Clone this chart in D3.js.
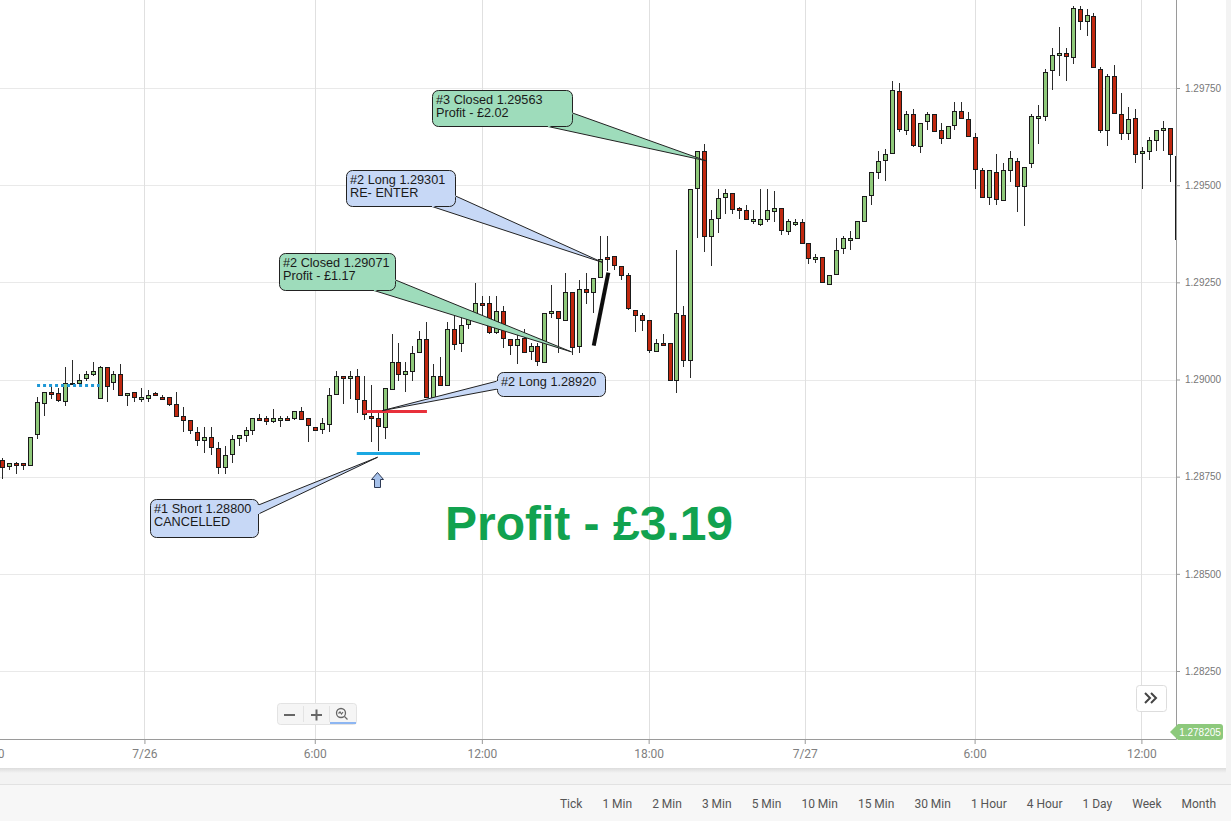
<!DOCTYPE html>
<html>
<head>
<meta charset="utf-8">
<script src="https://cdn.jsdelivr.net/npm/d3@7"></script>
<style>
body { margin:0; background:#f4f4f4; }
svg { display:block; }
</style>
</head>
<body>
<svg id="chart" width="1231" height="821"></svg>
<script>
// 15 min candles
var open = [
1.28794,1.28776,1.28784,1.28784,1.28781,1.28858,1.28941,1.28967,1.28964,1.28946,
1.28990,1.28992,1.29003,1.29015,1.28951,1.29031,1.28995,1.29013,1.28959,1.28967,
1.28949,1.28954,1.28964,1.28956,1.28954,1.28936,1.28905,1.28895,1.28866,1.28846,
1.28853,1.28825,1.28774,1.28807,1.28848,1.28856,1.28869,1.28902,1.28900,1.28892,
1.28897,1.28902,1.28900,1.28920,1.28900,1.28879,1.28871,1.28887,1.28964,1.29010,
1.29003,1.29008,1.28946,1.28907,1.28900,1.28877,1.28977,1.29046,1.29015,1.29023,
1.29069,1.29105,1.28956,1.29008,1.28985,1.29129,1.29093,1.29141,1.29160,1.29196,
1.29196,1.29121,1.29175,1.29105,1.29090,1.29108,1.29072,1.29085,1.29046,1.29170,
1.29175,1.29154,1.29226,1.29085,1.29234,1.29226,1.29265,1.29316,1.29319,1.29293,
1.29268,1.29180,1.29167,1.29152,1.29075,1.29095,1.29093,1.28997,1.29167,1.29049,
1.29491,1.29587,1.29368,1.29414,1.29471,1.29481,1.29440,1.29435,1.29406,1.29401,
1.29414,1.29432,1.29440,1.29383,1.29401,1.29406,1.29350,1.29309,1.29314,1.29247,
1.29273,1.29337,1.29358,1.29365,1.29409,1.29473,1.29535,1.29566,1.29581,1.29741,
1.29641,1.29684,1.29602,1.29664,1.29684,1.29643,1.29623,1.29656,1.29692,1.29671,
1.29625,1.29540,1.29468,1.29535,1.29463,1.29538,1.29561,1.29499,1.29556,1.29671,
1.29679,1.29795,1.29834,1.29839,1.29831,1.29954,1.29924,1.29936,1.29800,1.29643,
1.29782,1.29684,1.29635,1.29674,1.29584,1.29587,1.29615,1.29641,1.29646,1.29576];
var high = [
1.28799,1.28784,1.28789,1.28786,1.28853,1.28954,1.28969,1.28985,1.28977,1.29033,
1.29049,1.29013,1.29023,1.29046,1.29036,1.29031,1.29023,1.29039,1.28964,1.28967,
1.28977,1.28972,1.28967,1.28959,1.28956,1.28967,1.28928,1.28895,1.28877,1.28877,
1.28877,1.28838,1.28828,1.28858,1.28856,1.28877,1.28900,1.28910,1.28905,1.28923,
1.28905,1.28905,1.28920,1.28928,1.28900,1.28879,1.28900,1.28977,1.29021,1.29010,
1.29023,1.29028,1.29010,1.28987,1.28915,1.28977,1.29116,1.29095,1.29044,1.29087,
1.29126,1.29147,1.29041,1.29059,1.29147,1.29170,1.29162,1.29175,1.29247,1.29216,
1.29214,1.29216,1.29190,1.29105,1.29116,1.29129,1.29093,1.29093,1.29172,1.29244,
1.29175,1.29275,1.29226,1.29257,1.29273,1.29262,1.29368,1.29368,1.29319,1.29293,
1.29275,1.29180,1.29172,1.29152,1.29103,1.29116,1.29093,1.29334,1.29188,1.29489,
1.29587,1.29607,1.29435,1.29489,1.29489,1.29481,1.29443,1.29448,1.29435,1.29489,
1.29491,1.29484,1.29440,1.29412,1.29414,1.29412,1.29350,1.29322,1.29314,1.29270,
1.29363,1.29370,1.29383,1.29409,1.29473,1.29533,1.29589,1.29594,1.29769,1.29764,
1.29692,1.29695,1.29661,1.29687,1.29684,1.29661,1.29653,1.29713,1.29713,1.29687,
1.29635,1.29543,1.29540,1.29579,1.29556,1.29587,1.29571,1.29548,1.29682,1.29705,
1.29798,1.29852,1.29906,1.29852,1.29960,1.29960,1.29952,1.29942,1.29803,1.29787,
1.29808,1.29736,1.29702,1.29695,1.29599,1.29623,1.29641,1.29664,1.29648,1.29576];
var low = [
1.28745,1.28768,1.28758,1.28766,1.28781,1.28846,1.28905,1.28951,1.28941,1.28933,
1.28990,1.28987,1.28997,1.29010,1.28951,1.28941,1.28974,1.28959,1.28933,1.28941,
1.28943,1.28943,1.28959,1.28946,1.28933,1.28905,1.28864,1.28861,1.28828,1.28812,
1.28807,1.28758,1.28758,1.28786,1.28830,1.28838,1.28858,1.28895,1.28882,1.28887,
1.28879,1.28892,1.28897,1.28900,1.28838,1.28871,1.28861,1.28864,1.28964,1.28938,
1.28951,1.28915,1.28895,1.28838,1.28817,1.28846,1.28977,1.28997,1.28967,1.28997,
1.29069,1.28956,1.28956,1.28985,1.28985,1.29075,1.29072,1.29129,1.29160,1.29154,
1.29116,1.29118,1.29082,1.29062,1.29039,1.29067,1.29051,1.29036,1.29046,1.29157,
1.29067,1.29154,1.29062,1.29067,1.29193,1.29170,1.29265,1.29280,1.29283,1.29257,
1.29178,1.29123,1.29126,1.29067,1.29075,1.29090,1.28997,1.28964,1.29033,1.29003,
1.29365,1.29329,1.29293,1.29376,1.29427,1.29425,1.29414,1.29412,1.29401,1.29396,
1.29406,1.29406,1.29373,1.29373,1.29396,1.29352,1.29298,1.29301,1.29247,1.29247,
1.29270,1.29324,1.29332,1.29365,1.29409,1.29450,1.29515,1.29512,1.29581,1.29638,
1.29630,1.29599,1.29584,1.29641,1.29641,1.29605,1.29620,1.29641,1.29671,1.29623,
1.29489,1.29471,1.29448,1.29448,1.29463,1.29509,1.29432,1.29396,1.29543,1.29605,
1.29666,1.29744,1.29780,1.29767,1.29813,1.29900,1.29885,1.29805,1.29635,1.29602,
1.29684,1.29615,1.29615,1.29558,1.29491,1.29566,1.29589,1.29589,1.29509,1.29363];
var close = [
1.28776,1.28784,1.28779,1.28779,1.28853,1.28941,1.28969,1.28961,1.28946,1.28992,
1.28992,1.29000,1.29013,1.29023,1.29031,1.28982,1.29015,1.28959,1.28964,1.28954,
1.28954,1.28961,1.28959,1.28951,1.28936,1.28905,1.28895,1.28869,1.28846,1.28853,
1.28828,1.28776,1.28805,1.28846,1.28856,1.28869,1.28900,1.28897,1.28892,1.28900,
1.28902,1.28897,1.28918,1.28900,1.28882,1.28871,1.28887,1.28961,1.29010,1.29005,
1.29008,1.28949,1.28910,1.28902,1.28879,1.28977,1.29046,1.29015,1.29023,1.29069,
1.29103,1.28956,1.29010,1.28985,1.29129,1.29090,1.29139,1.29160,1.29196,1.29190,
1.29121,1.29175,1.29105,1.29090,1.29105,1.29072,1.29085,1.29046,1.29172,1.29175,
1.29157,1.29226,1.29085,1.29232,1.29226,1.29262,1.29311,1.29311,1.29296,1.29270,
1.29183,1.29167,1.29154,1.29075,1.29095,1.29090,1.28997,1.29170,1.29051,1.29489,
1.29587,1.29368,1.29412,1.29466,1.29481,1.29440,1.29435,1.29412,1.29412,1.29414,
1.29437,1.29440,1.29383,1.29409,1.29406,1.29352,1.29311,1.29314,1.29250,1.29270,
1.29334,1.29363,1.29363,1.29409,1.29473,1.29533,1.29563,1.29581,1.29744,1.29643,
1.29682,1.29605,1.29661,1.29682,1.29641,1.29623,1.29653,1.29692,1.29674,1.29628,
1.29543,1.29471,1.29538,1.29466,1.29540,1.29569,1.29497,1.29548,1.29677,1.29677,
1.29792,1.29834,1.29839,1.29831,1.29957,1.29924,1.29939,1.29805,1.29643,1.29782,
1.29687,1.29635,1.29671,1.29581,1.29589,1.29615,1.29641,1.29646,1.29579,1.29363];

// time axis (candle index of each tick) and price axis
var timeTickIdx = [-1.9, 20.45, 44.96, 69.0, 93.0, 115.46, 139.9, 163.9];
var timeTickLabels = ["18:00", "7/26", "6:00", "12:00", "18:00", "7/27", "6:00", "12:00"];
var priceTicks = [1.2825, 1.2850, 1.2875, 1.2900, 1.2925, 1.2950, 1.2975];
var lastPrice = 1.278205;
var periods = ["Tick", "1 Min", "2 Min", "3 Min", "5 Min", "10 Min", "15 Min", "30 Min", "1 Hour", "4 Hour", "1 Day", "Week", "Month"];

// order levels drawn on the chart
var levelPrice = [1.28987, 1.28920, 1.28812];
var levelFrom = [5.0, 51.9, 51.0];
var levelTo = [14.0, 61.1, 60.1];
var levelKind = ["dotted", "long", "short"];

var trendIdx = [85.1, 87.2];
var trendPrice = [1.29087, 1.29275];
var arrowIdx = 53.9, arrowPrice = 1.28763;

// trade notes
var noteText = [
  ["#3 Closed 1.29563", "Profit - \u00a32.02"],
  ["#2 Long 1.29301", "RE- ENTER"],
  ["#2 Closed 1.29071", "Profit - \u00a31.17"],
  ["#2 Long 1.28920"],
  ["#1 Short 1.28800", "CANCELLED"]];
var noteKind = ["close", "long", "close", "long", "long"];
var noteTipIdx = [101.2, 86.4, 81.9, 54.7, 54.0];
var noteTipPrice = [1.29563, 1.29301, 1.29071, 1.28920, 1.28800];
var totalProfit = "Profit - \u00a33.19";

// ---- layout ----
var plotW = 1176, plotH = 739;
var svg = d3.select("#chart");

var x = d3.scaleLinear().domain([0, open.length - 1]).range([2.3, 2.3 + 6.95 * (open.length - 1)]);
var y = d3.scaleLinear().domain([1.2825, 1.2975]).range([671, 88]);

// backgrounds
var defs = svg.append("defs");
var sh = defs.append("linearGradient").attr("id", "shadow").attr("x1", 0).attr("x2", 0).attr("y1", 0).attr("y2", 1);
sh.append("stop").attr("offset", 0).attr("stop-color", "#dcdcdc");
sh.append("stop").attr("offset", 1).attr("stop-color", "#f3f3f3");
defs.append("clipPath").attr("id", "plotclip").append("rect").attr("width", plotW).attr("height", plotH);

svg.append("rect").attr("width", 1231).attr("height", 821).attr("fill", "#f3f3f3");
svg.append("rect").attr("width", 1226).attr("height", 768).attr("fill", "#fff");
svg.append("rect").attr("y", 768).attr("width", 1226).attr("height", 5).attr("fill", "url(#shadow)");
svg.append("line").attr("x1", 0).attr("x2", 1231).attr("y1", 784.5).attr("y2", 784.5).attr("stroke", "#e2e2e2");
svg.append("rect").attr("y", 785).attr("width", 1231).attr("height", 36).attr("fill", "#f7f7f7");

// grid
var grid = svg.append("g").attr("clip-path", "url(#plotclip)");
grid.selectAll("line.h").data(priceTicks).enter().append("line")
  .attr("x1", 0).attr("x2", plotW)
  .attr("y1", function(d) { return Math.round(y(d)) + 0.5; })
  .attr("y2", function(d) { return Math.round(y(d)) + 0.5; })
  .attr("stroke", "#e9e9e9");
grid.selectAll("line.v").data(timeTickIdx).enter().append("line")
  .attr("y1", 0).attr("y2", plotH)
  .attr("x1", function(d) { return Math.round(x(d)) + 0.5; })
  .attr("x2", function(d) { return Math.round(x(d)) + 0.5; })
  .attr("stroke", "#e0e0e0");

// candles
var idx = d3.range(open.length);
var cg = svg.append("g").attr("clip-path", "url(#plotclip)");
var candle = cg.selectAll("g.c").data(idx).enter().append("g");
candle.append("line")
  .attr("x1", function(i) { return Math.round(x(i)) + 0.5; })
  .attr("x2", function(i) { return Math.round(x(i)) + 0.5; })
  .attr("y1", function(i) { return Math.round(y(high[i])); })
  .attr("y2", function(i) { return Math.round(y(low[i])); })
  .attr("stroke", "#2b2b2b");
candle.append("rect")
  .attr("x", function(i) { return Math.round(x(i)) - 1.5; })
  .attr("width", 4)
  .attr("y", function(i) { return Math.round(y(Math.max(open[i], close[i]))) + 0.5; })
  .attr("height", function(i) { return Math.max(1, Math.round(Math.abs(y(open[i]) - y(close[i])))); })
  .attr("fill", function(i) { return close[i] >= open[i] ? "#8fc97a" : "#c0280f"; })
  .attr("stroke", "#1a1a1a");

// axes
var xAxis = d3.axisBottom(x).tickValues(timeTickIdx)
  .tickFormat(function(d, i) { return timeTickLabels[i]; })
  .tickSize(5).tickPadding(5);
var gx = svg.append("g").attr("transform", "translate(0," + plotH + ")").call(xAxis);
gx.select(".domain").remove();
gx.selectAll(".tick line").attr("stroke", "#999");
gx.selectAll(".tick text").attr("font-family", "Roboto").attr("font-size", 12).attr("fill", "#808080");

var yAxis = d3.axisRight(y).tickValues(priceTicks).tickFormat(d3.format(".5f")).tickSize(4).tickPadding(5);
var gy = svg.append("g").attr("transform", "translate(" + plotW + ",0)").call(yAxis);
gy.select(".domain").remove();
gy.selectAll(".tick line").attr("stroke", "#999");
gy.selectAll(".tick text").attr("font-family", "Liberation Sans, Arial").attr("font-size", 10).attr("fill", "#777");

svg.append("line").attr("x1", 0).attr("x2", plotW + 0.5).attr("y1", plotH + 0.5).attr("y2", plotH + 0.5).attr("stroke", "#9a9a9a");
svg.append("line").attr("x1", plotW + 0.5).attr("x2", plotW + 0.5).attr("y1", 0).attr("y2", plotH + 0.5).attr("stroke", "#9a9a9a");

// levels
var lv = svg.append("g").attr("clip-path", "url(#plotclip)");
levelPrice.forEach(function(p, k) {
  lv.append("line")
    .attr("x1", x(levelFrom[k])).attr("x2", x(levelTo[k]))
    .attr("y1", Math.round(y(p)) + 0.5).attr("y2", Math.round(y(p)) + 0.5)
    .attr("stroke", levelKind[k] == "long" ? "#e8303b" : (levelKind[k] == "short" ? "#1ba8e2" : "#1f98d6"))
    .attr("stroke-width", 3)
    .attr("stroke-dasharray", levelKind[k] == "dotted" ? "3,3" : null);
});
lv.append("line")
  .attr("x1", x(trendIdx[0])).attr("y1", y(trendPrice[0]))
  .attr("x2", x(trendIdx[1])).attr("y2", y(trendPrice[1]))
  .attr("stroke", "#0d0d0d").attr("stroke-width", 4);

// up arrow marker
var ax = Math.round(x(arrowIdx)) + 0.5, ay = Math.round(y(arrowPrice)) + 0.5;
svg.append("path")
  .attr("d", "M" + ax + "," + ay + " l6,7 h-3 v8 h-6 v-8 h-3 z")
  .attr("fill", "#a6c1ea").attr("stroke", "#2e3a55").attr("stroke-width", 1);

// notes: box positions are layout only
var noteBox = [[432.5, 90.5, 140, 36], [346.5, 170.5, 109, 36], [279.5, 253.5, 116, 37], [497.5, 372.5, 108, 24], [150.5, 499.5, 108, 38]];
var noteBase = [[548, 126.5, 572.5, 113], [432, 206.5, 455.5, 196], [374, 290.5, 395.5, 280], [497.5, 381, 497.5, 389], [258.5, 505, 258.5, 514]];
var ng = svg.append("g");
noteText.forEach(function(lines, k) {
  var fill = noteKind[k] == "close" ? "#9edcbb" : "#c7d8f6";
  var tx = x(noteTipIdx[k]), ty = y(noteTipPrice[k]);
  var b = noteBox[k], w = noteBase[k];
  ng.append("path")
    .attr("d", "M" + w[0] + "," + w[1] + " L" + tx + "," + ty + " L" + w[2] + "," + w[3] + " Z")
    .attr("fill", fill).attr("stroke", "#222").attr("stroke-width", 1);
  ng.append("rect")
    .attr("x", b[0]).attr("y", b[1]).attr("width", b[2]).attr("height", b[3]).attr("rx", 6)
    .attr("fill", fill).attr("stroke", "#222").attr("stroke-width", 1);
  ng.append("line")
    .attr("x1", w[0]).attr("y1", w[1]).attr("x2", w[2]).attr("y2", w[3])
    .attr("stroke", fill).attr("stroke-width", 2);
  lines.forEach(function(t, j) {
    ng.append("text")
      .attr("x", b[0] + 3.5).attr("y", b[1] + 13 + j * 13)
      .attr("font-family", "Liberation Sans, Arial").attr("font-size", 12.7).attr("fill", "#1a1a1a")
      .text(t);
  });
});

svg.append("text").attr("x", 589).attr("y", 540).attr("text-anchor", "middle")
  .attr("font-family", "Liberation Sans, Arial").attr("font-weight", "bold").attr("font-size", 48)
  .attr("fill", "#11a24f").text(totalProfit);

// zoom buttons
var zb = svg.append("g");
zb.append("rect").attr("x", 277.5).attr("y", 703.5).attr("width", 79).attr("height", 21).attr("rx", 3)
  .attr("fill", "#f5f5f5").attr("stroke", "#e3e3e3");
zb.append("line").attr("x1", 303.5).attr("x2", 303.5).attr("y1", 706).attr("y2", 722).attr("stroke", "#e3e3e3");
zb.append("line").attr("x1", 329.5).attr("x2", 329.5).attr("y1", 706).attr("y2", 722).attr("stroke", "#e3e3e3");
zb.append("path").attr("d", "M284,715 h11").attr("stroke", "#666").attr("stroke-width", 2);
zb.append("path").attr("d", "M311,715 h11 M316.5,709.5 v11").attr("stroke", "#666").attr("stroke-width", 2);
zb.append("circle").attr("cx", 341).attr("cy", 713).attr("r", 4.5).attr("fill", "none").attr("stroke", "#666").attr("stroke-width", 1.3);
zb.append("path").attr("d", "M344.5,716.5 l3,3 M338.5,713.5 l1.5,-1.5 l1.5,2 l1.5,-2").attr("stroke", "#666").attr("stroke-width", 1.2).attr("fill", "none");
zb.append("line").attr("x1", 330).attr("x2", 356).attr("y1", 723).attr("y2", 723).attr("stroke", "#8db6f2").attr("stroke-width", 2);

// scroll-to-end button
svg.append("rect").attr("x", 1136.5).attr("y", 685.5).attr("width", 30).attr("height", 26).attr("rx", 3)
  .attr("fill", "#fff").attr("stroke", "#ddd");
svg.append("path").attr("d", "M1145,693 l5,5 l-5,5 M1151,693 l5,5 l-5,5")
  .attr("fill", "none").attr("stroke", "#444").attr("stroke-width", 2);

// last price tag (off the bottom of the scale)
svg.append("path").attr("d", "M1170,732 l8,-8 h42 q3,0 3,3 v10 q0,3 -3,3 h-42 z").attr("fill", "#8dc97c");
svg.append("text").attr("x", 1200).attr("y", 736).attr("text-anchor", "middle")
  .attr("font-family", "Liberation Sans, Arial").attr("font-size", 10).attr("fill", "#fff")
  .text(d3.format(".6f")(lastPrice));

// period menu, laid out right to left
var cursor = 1216;
var menu = svg.append("g");
periods.slice().reverse().forEach(function(p) {
  var t = menu.append("text").attr("x", cursor).attr("y", 808).attr("text-anchor", "end")
    .attr("font-family", "Roboto").attr("font-size", 12).attr("fill", "#555").text(p);
  cursor -= t.node().getComputedTextLength() + 20;
});
</script>
</body>
</html>
